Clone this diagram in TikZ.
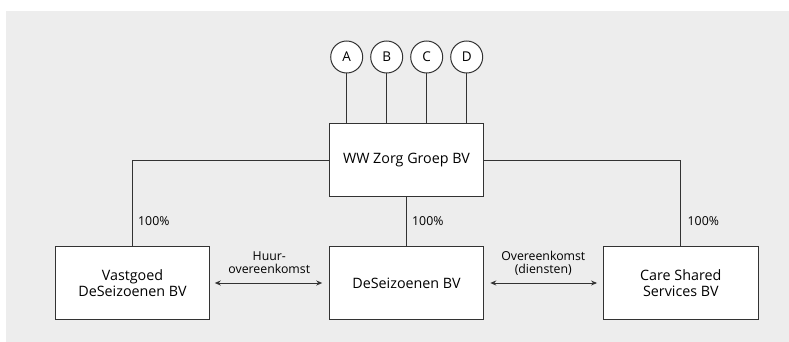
\documentclass[tikz,border=0pt]{standalone}
\usepackage{fontspec}
\setmainfont{Open Sans}
\usetikzlibrary{arrows.meta}
\definecolor{bg}{HTML}{EDEDED}
\definecolor{ln}{HTML}{333333}
\begin{document}
\begin{tikzpicture}[x=1pt,y=-1pt,
  box/.style={draw=ln,fill=white,line width=1pt,minimum width=154.5pt,minimum height=72.6pt,align=center,font=\fontsize{14.3}{16.5}\selectfont,inner sep=0pt},
  circ/.style={draw=ln,fill=white,line width=1pt,circle,minimum size=32pt,inner sep=0pt,font=\fontsize{13.5}{15}\selectfont},
  conn/.style={draw=ln,line width=1pt},
  lbl/.style={font=\fontsize{12.3}{12.8}\selectfont,align=center,inner sep=0pt},
  dbl/.style={conn,{Stealth[length=6pt,width=5pt]}-{Stealth[length=6pt,width=5pt]}}
]
\useasboundingbox (0,0) rectangle (789,342);
\fill[bg] (6,11) rectangle (789,342);
\node[box] (top) at (406.5,160.2) {WW Zorg Groep BV};
\node[box] (vg) at (132.5,283) {Vastgoed\\DeSeizoenen BV};
\node[box] (ds) at (406.5,283) {DeSeizoenen BV};
\node[box] (cs) at (680.8,283) {Care Shared\\Services BV};
\node[circ] (A) at (346.7,57) {A};
\node[circ] (B) at (386.7,57) {B};
\node[circ] (C) at (426.7,57) {C};
\node[circ] (D) at (466.7,57) {D};
\foreach \n in {A,B,C,D} \draw[conn] (\n.south) -- (\n.south |- top.north);
\draw[conn] (top.west) -| (vg.north);
\draw[conn] (top.east) -| (cs.north);
\draw[conn] (top.south) -- (ds.north);
\node[lbl,anchor=west] (p1) at (138,221.5) {100\%};
\node[lbl,anchor=west] (p2) at (412,221.5) {100\%};
\node[lbl,anchor=west] (p3) at (687.5,221.5) {100\%};
\draw[dbl] ([xshift=4.5pt]vg.east) -- ([xshift=-6.5pt]ds.west);
\draw[dbl] ([xshift=6pt]ds.east) -- ([xshift=-6pt]cs.west);
\node[lbl] (l1) at (269.3,263) {Huur-\\overeenkomst};
\node[lbl] (l2) at (543.3,263) {Overeenkomst\\(diensten)};
\end{tikzpicture}
\end{document}
